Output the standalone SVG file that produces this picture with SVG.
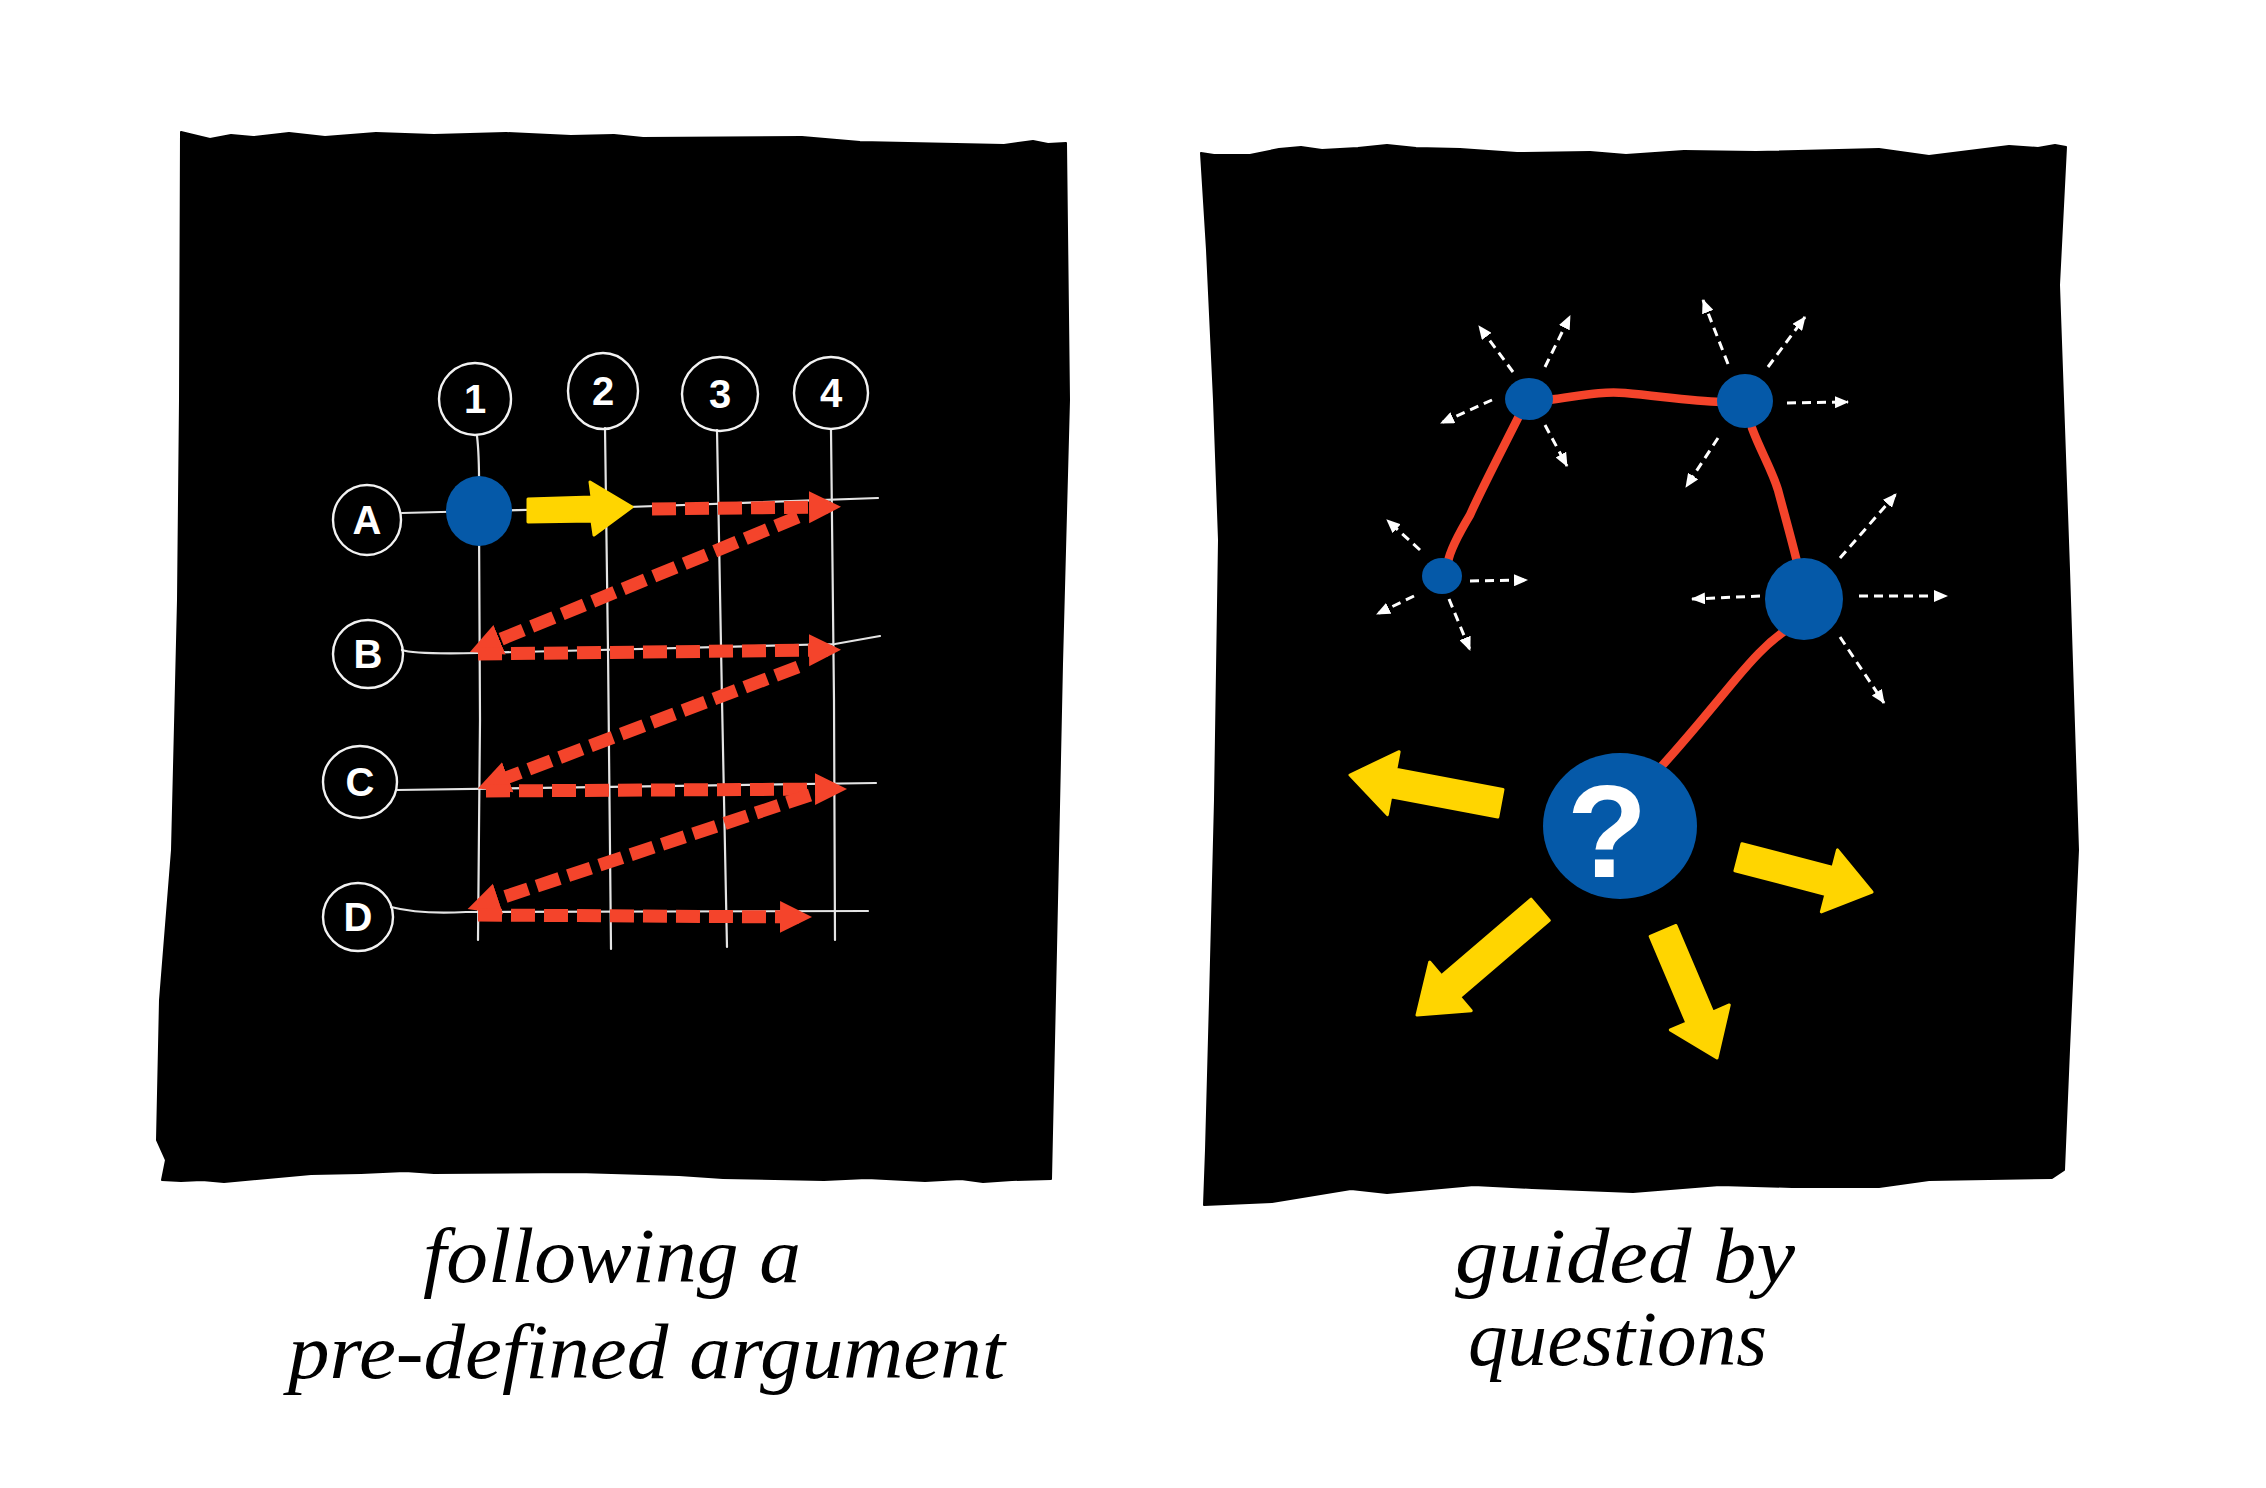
<svg xmlns="http://www.w3.org/2000/svg" width="2266" height="1488" viewBox="0 0 2266 1488">
<style>
.panel{fill:#000;stroke:#000;stroke-width:2;stroke-linejoin:round}
.grid{fill:none;stroke:#e4e4e4;stroke-width:2.2;stroke-linecap:round}
.ring{fill:none;stroke:#f2f2f2;stroke-width:2.4}
.lbl{fill:#fff;font-family:"Liberation Sans","DejaVu Sans",sans-serif;font-weight:bold;font-size:40px;text-anchor:middle}
.blue{fill:#0559A8}
.reddash{fill:none;stroke:#F4442B;stroke-width:13;stroke-dasharray:24 9}
.redline{fill:none;stroke:#F4442B;stroke-width:8.5;stroke-linecap:round;stroke-linejoin:round}
.yellow{fill:#FFD500;stroke:#FFD500;stroke-width:3;stroke-linejoin:round}
.wdash{fill:none;stroke:#fff;stroke-width:3;stroke-dasharray:9 6}
.cap{fill:#000;font-family:"Liberation Serif","DejaVu Serif",serif;font-style:italic;font-size:78px}
</style>
<defs>
<marker id="redHead" markerUnits="userSpaceOnUse" markerWidth="32" markerHeight="34" viewBox="0 0 32 34" refX="19" refY="17" orient="auto">
<path d="M0,1 L32,17 L0,33 Z" fill="#F4442B"/>
</marker>
<marker id="whiteHead" markerUnits="userSpaceOnUse" markerWidth="14" markerHeight="12" viewBox="0 0 14 12" refX="13" refY="6" orient="auto">
<path d="M0,0 L14,6 L0,12 Z" fill="#fff"/>
</marker>
</defs>
<rect width="2266" height="1488" fill="#fff"/>

<g id="panel-left">
<path class="panel" d="M181,132 L210,139 L231,135 L253,137 L289,133 L325,137 L376,133 L434,135 L506,133 L571,136 L614,135 L643,138 L802,137 L860,142 L1004,145 L1033,141 L1048,144 L1066,143 L1069,400 L1062,664 L1056,950 L1051,1179 L1012,1180 L983,1182 L961,1179 L925,1181 L867,1178 L824,1180 L723,1178 L679,1175 L578,1172 L434,1173 L405,1171 L361,1173 L311,1174 L224,1182 L202,1180 L181,1181 L162,1180 L166,1160 L157,1140 L160,1000 L172,850 L178,600 L180,400 Z"/>
</g>
<g id="panel-right">
<path class="panel" d="M1201,153 L1214,155 L1250,155 L1279,149 L1301,147 L1322,150 L1358,148 L1387,145 L1416,148 L1460,149 L1517,153 L1590,152 L1626,155 L1684,151 L1756,152 L1879,149 L1929,156 L2009,146 L2038,148 L2055,145 L2066,147 L2059,285 L2069,569 L2078,850 L2069,1050 L2064,1170 L2052,1178 L1929,1180 L1879,1187 L1792,1187 L1720,1185 L1633,1192 L1532,1188 L1474,1185 L1387,1193 L1351,1189 L1272,1202 L1204,1205 L1206,1150 L1210,1000 L1215,800 L1219,540 L1214,400 L1207,250 Z"/>
</g>

<g id="grid">
<path class="grid" d="M477,436 C480,460 479,480 479,520 L480,720 L478,940"/>
<path class="grid" d="M605,428 L608,650 L611,949"/>
<path class="grid" d="M717,430 L722,700 L727,947"/>
<path class="grid" d="M831,430 L834,700 L835,940"/>
<path class="grid" d="M402,513 L600,508 L878,498"/>
<path class="grid" d="M402,650 C410,653 430,654 478,653 L835,644 L880,636"/>
<path class="grid" d="M397,790 L876,783"/>
<path class="grid" d="M391,907 C410,912 430,914 466,912 L868,911"/>
</g>

<g id="col-1"><ellipse class="ring" cx="475" cy="399" rx="36" ry="36"/><text class="lbl" x="475" y="413">1</text></g>
<g id="col-2"><ellipse class="ring" cx="603" cy="391" rx="35" ry="38"/><text class="lbl" x="603" y="405">2</text></g>
<g id="col-3"><ellipse class="ring" cx="720" cy="394" rx="38" ry="37"/><text class="lbl" x="720" y="408">3</text></g>
<g id="col-4"><ellipse class="ring" cx="831" cy="393" rx="37" ry="36"/><text class="lbl" x="831" y="407">4</text></g>
<g id="row-A"><ellipse class="ring" cx="367" cy="520" rx="34" ry="35"/><text class="lbl" x="367" y="534">A</text></g>
<g id="row-B"><ellipse class="ring" cx="368" cy="654" rx="35" ry="34"/><text class="lbl" x="368" y="668">B</text></g>
<g id="row-C"><ellipse class="ring" cx="360" cy="782" rx="37" ry="36"/><text class="lbl" x="360" y="796">C</text></g>
<g id="row-D"><ellipse class="ring" cx="358" cy="917" rx="35" ry="34"/><text class="lbl" x="358" y="931">D</text></g>

<g id="connectors">
<path class="reddash" d="M652,509 L828,507" marker-end="url(#redHead)"/>
<path class="reddash" d="M798,517 L482,647" marker-end="url(#redHead)"/>
<path class="reddash" d="M478,654 L828,650" marker-end="url(#redHead)"/>
<path class="reddash" d="M798,667 L490,784" marker-end="url(#redHead)"/>
<path class="reddash" d="M486,791 L834,789" marker-end="url(#redHead)"/>
<path class="reddash" d="M810,795 L480,905" marker-end="url(#redHead)"/>
<path class="reddash" d="M478,915 L799,917" marker-end="url(#redHead)"/>
<polygon class="yellow" points="528,499 592,497 590,482 632,507 594,535 592,521 528,522"/>

<path class="redline" d="M1548,400 C1580,396 1600,391 1625,393 C1660,396 1690,401 1722,402"/>
<path class="redline" d="M1520,414 C1502,450 1482,488 1470,515 C1458,535 1450,550 1448,562"/>
<path class="redline" d="M1752,428 C1760,450 1772,470 1778,490 C1786,520 1793,545 1797,562"/>
<path class="redline" d="M1786,630 C1765,645 1752,660 1735,680 C1710,710 1690,735 1660,768"/>

<path class="wdash" d="M1513,372 L1479,326" marker-end="url(#whiteHead)"/>
<path class="wdash" d="M1545,367 L1570,316" marker-end="url(#whiteHead)"/>
<path class="wdash" d="M1492,400 L1441,423" marker-end="url(#whiteHead)"/>
<path class="wdash" d="M1545,425 L1567,466" marker-end="url(#whiteHead)"/>
<path class="wdash" d="M1728,364 L1703,300" marker-end="url(#whiteHead)"/>
<path class="wdash" d="M1768,367 L1805,317" marker-end="url(#whiteHead)"/>
<path class="wdash" d="M1787,403 L1848,402" marker-end="url(#whiteHead)"/>
<path class="wdash" d="M1718,438 L1686,487" marker-end="url(#whiteHead)"/>
<path class="wdash" d="M1420,550 L1387,520" marker-end="url(#whiteHead)"/>
<path class="wdash" d="M1470,581 L1527,580" marker-end="url(#whiteHead)"/>
<path class="wdash" d="M1414,596 L1377,614" marker-end="url(#whiteHead)"/>
<path class="wdash" d="M1449,599 L1470,650" marker-end="url(#whiteHead)"/>
<path class="wdash" d="M1840,558 L1896,494" marker-end="url(#whiteHead)"/>
<path class="wdash" d="M1760,596 L1692,599" marker-end="url(#whiteHead)"/>
<path class="wdash" d="M1859,596 L1947,596" marker-end="url(#whiteHead)"/>
<path class="wdash" d="M1840,637 L1884,703" marker-end="url(#whiteHead)"/>

<polygon class="yellow" transform="translate(1350,775) rotate(190.6)" points="0,0 -44,-32 -44,-14 -153,-14 -153,14 -44,14 -44,32"/>
<polygon class="yellow" transform="translate(1872,892) rotate(14.6)" points="0,0 -44,-32 -44,-14 -138,-14 -138,14 -44,14 -44,32"/>
<polygon class="yellow" transform="translate(1417,1015) rotate(139.5)" points="0,0 -44,-32 -44,-14 -162,-14 -162,14 -44,14 -44,32"/>
<polygon class="yellow" transform="translate(1717,1058) rotate(67)" points="0,0 -44,-32 -44,-14 -138,-14 -138,14 -44,14 -44,32"/>
</g>

<g id="dot"><ellipse class="blue" cx="479" cy="511" rx="33" ry="35"/></g>
<g id="node-1"><ellipse class="blue" cx="1529" cy="399" rx="24" ry="21"/></g>
<g id="node-2"><ellipse class="blue" cx="1745" cy="401" rx="28" ry="27"/></g>
<g id="node-3"><ellipse class="blue" cx="1442" cy="576" rx="20" ry="18"/></g>
<g id="node-4"><ellipse class="blue" cx="1804" cy="599" rx="39" ry="41"/></g>
<g id="node-q"><ellipse class="blue" cx="1620" cy="826" rx="77" ry="73"/><text x="1607" y="877" fill="#fff" font-family="Liberation Sans, DejaVu Sans, sans-serif" font-weight="bold" font-size="132" text-anchor="middle">?</text></g>

<g id="caption-left">
<text class="cap" x="423" y="1282" textLength="378" lengthAdjust="spacingAndGlyphs">following a</text>
<text class="cap" x="288" y="1378" textLength="717" lengthAdjust="spacingAndGlyphs">pre-defined argument</text>
</g>
<g id="caption-right">
<text class="cap" x="1455" y="1282" textLength="340" lengthAdjust="spacingAndGlyphs">guided by</text>
<text class="cap" x="1468" y="1365" textLength="299" lengthAdjust="spacingAndGlyphs">questions</text>
</g>
</svg>
